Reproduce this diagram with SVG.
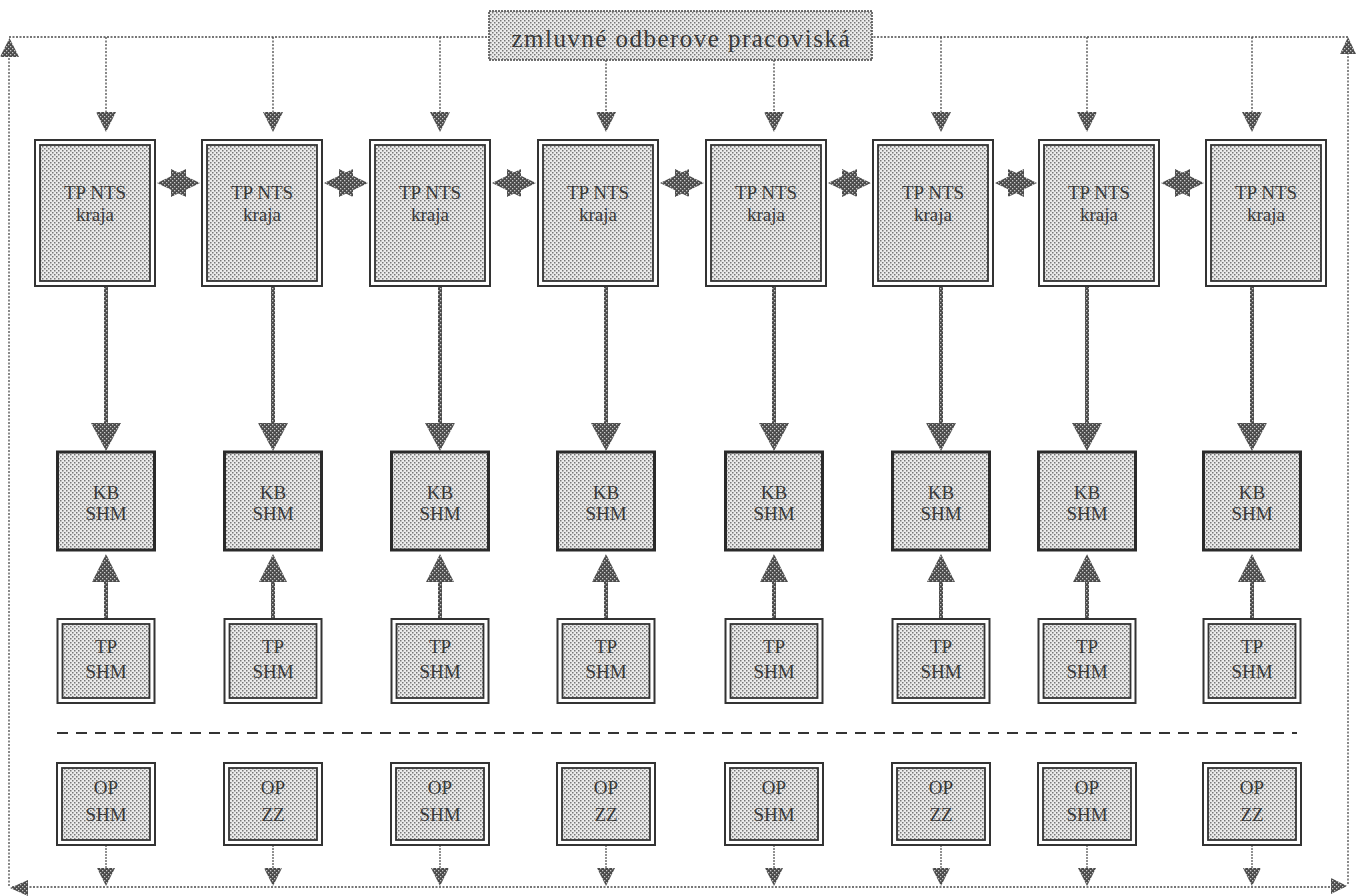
<svg xmlns="http://www.w3.org/2000/svg" width="1356" height="896" viewBox="0 0 1356 896">
<defs>
<pattern id="stip" width="4" height="4" patternUnits="userSpaceOnUse"><rect width="4" height="4" fill="#ebebeb"/><rect x="0" y="0" width="1.5" height="1.5" fill="#777"/><rect x="2" y="2" width="1.5" height="1.5" fill="#777"/></pattern>
<pattern id="dk" width="4" height="4" patternUnits="userSpaceOnUse"><rect width="4" height="4" fill="#4a4a4a"/><rect x="0" y="0" width="1.3" height="1.3" fill="#c8c8c8"/><rect x="2" y="2" width="1.3" height="1.3" fill="#c8c8c8"/></pattern>
</defs>
<style>
.t{font-family:"Liberation Serif","Times New Roman",serif;fill:#3a3a3a;text-anchor:middle;font-size:19px}
.ti{font-size:25px}
.dot{stroke:#4a4a4a;stroke-width:1.3;stroke-dasharray:2 1.5;fill:none}
.ah{fill:url(#dk)}
.shaft{stroke:url(#dk);stroke-width:4;fill:none}
.thin{stroke:#4a4a4a;stroke-width:1.2;stroke-dasharray:2 1;fill:none}
.outer{fill:#fff;stroke:#333;stroke-width:2}
.inner{fill:url(#stip);stroke:#333;stroke-width:1.8}
.kb{fill:url(#stip);stroke:#2a2a2a;stroke-width:3}
.title{fill:url(#stip);stroke:#444;stroke-width:1.5;stroke-dasharray:2 1}
.sep{stroke:#333;stroke-width:2;stroke-dasharray:11 8;fill:none}
</style>
<rect width="1356" height="896" fill="#fff"/>

<g id="connectors">
<!-- outer loop -->
<path class="dot" d="M9 37 H1348"/>
<path class="dot" d="M9 886 V56"/>
<polygon class="ah" points="0,57 19,57 9.5,38"/>
<path class="dot" d="M1348 884 V54"/>
<polygon class="ah" points="1340,54 1356,54 1348,37"/>
<path class="dot" d="M12 887 H1345"/>
<polygon class="ah" points="10,888 28,880 28,896"/>
<polygon class="ah" points="1347,886 1331,878 1331,894"/>
<!-- top down arrows -->
<path class="dot" d="M106 37 V113 M273 37 V113 M440 37 V113 M606 60 V113 M774 60 V113 M941 37 V113 M1087 37 V113 M1252 37 V113"/>
<polygon class="ah" points="96,112 116,112 106,132"/>
<polygon class="ah" points="263,112 283,112 273,132"/>
<polygon class="ah" points="430,112 450,112 440,132"/>
<polygon class="ah" points="596,112 616,112 606,132"/>
<polygon class="ah" points="764,112 784,112 774,132"/>
<polygon class="ah" points="931,112 951,112 941,132"/>
<polygon class="ah" points="1077,112 1097,112 1087,132"/>
<polygon class="ah" points="1242,112 1262,112 1252,132"/>
<!-- double arrows between TP NTS -->
<polygon class="ah" points="157,183 186,169 186,197"/><polygon class="ah" points="200,183 171,169 171,197"/>
<polygon class="ah" points="324,183 353,169 353,197"/><polygon class="ah" points="368,183 339,169 339,197"/>
<polygon class="ah" points="492,183 521,169 521,197"/><polygon class="ah" points="536,183 507,169 507,197"/>
<polygon class="ah" points="660,183 689,169 689,197"/><polygon class="ah" points="704,183 675,169 675,197"/>
<polygon class="ah" points="828,183 857,169 857,197"/><polygon class="ah" points="871,183 842,169 842,197"/>
<polygon class="ah" points="995,183 1024,169 1024,197"/><polygon class="ah" points="1037,183 1008,169 1008,197"/>
<polygon class="ah" points="1161,183 1190,169 1190,197"/><polygon class="ah" points="1204,183 1175,169 1175,197"/>
<!-- TP NTS to KB -->
<path class="shaft" d="M106 286 V424 M273 286 V424 M440 286 V424 M606 286 V424 M774 286 V424 M941 286 V424 M1087 286 V424 M1252 286 V424"/>
<polygon class="ah" points="91,423 121,423 106,451"/>
<polygon class="ah" points="258,423 288,423 273,451"/>
<polygon class="ah" points="425,423 455,423 440,451"/>
<polygon class="ah" points="591,423 621,423 606,451"/>
<polygon class="ah" points="759,423 789,423 774,451"/>
<polygon class="ah" points="926,423 956,423 941,451"/>
<polygon class="ah" points="1072,423 1102,423 1087,451"/>
<polygon class="ah" points="1237,423 1267,423 1252,451"/>
<!-- TP SHM to KB -->
<path class="shaft" d="M106 619 V581 M273 619 V581 M440 619 V581 M606 619 V581 M774 619 V581 M941 619 V581 M1087 619 V581 M1252 619 V581"/>
<polygon class="ah" points="92,582 120,582 106,554"/>
<polygon class="ah" points="259,582 287,582 273,554"/>
<polygon class="ah" points="426,582 454,582 440,554"/>
<polygon class="ah" points="592,582 620,582 606,554"/>
<polygon class="ah" points="760,582 788,582 774,554"/>
<polygon class="ah" points="927,582 955,582 941,554"/>
<polygon class="ah" points="1073,582 1101,582 1087,554"/>
<polygon class="ah" points="1238,582 1266,582 1252,554"/>
<!-- separator -->
<path class="sep" d="M57 733 H1297"/>
<!-- OP to bottom line -->
<path class="thin" d="M106 845 V869 M273 845 V869 M440 845 V869 M606 845 V869 M774 845 V869 M941 845 V869 M1087 845 V869 M1252 845 V869"/>
<polygon class="ah" points="97,868 115,868 106,886"/>
<polygon class="ah" points="264,868 282,868 273,886"/>
<polygon class="ah" points="431,868 449,868 440,886"/>
<polygon class="ah" points="597,868 615,868 606,886"/>
<polygon class="ah" points="765,868 783,868 774,886"/>
<polygon class="ah" points="932,868 950,868 941,886"/>
<polygon class="ah" points="1078,868 1096,868 1087,886"/>
<polygon class="ah" points="1243,868 1261,868 1252,886"/>
</g>

<g id="title">
<rect class="title" x="489" y="11" width="383" height="49"/>
<text class="t ti" x="680.5" y="47" textLength="338" lengthAdjust="spacing">zmluvné odberove pracoviská</text>
</g>

<g id="tpnts1"><rect class="outer" x="35" y="140" width="120" height="146"/><rect class="inner" x="40" y="145" width="110" height="136"/><text class="t" x="95" y="199">TP NTS</text><text class="t" x="95" y="221">kraja</text></g>
<g id="tpnts2"><rect class="outer" x="202" y="140" width="120" height="146"/><rect class="inner" x="207" y="145" width="110" height="136"/><text class="t" x="262" y="199">TP NTS</text><text class="t" x="262" y="221">kraja</text></g>
<g id="tpnts3"><rect class="outer" x="370" y="140" width="120" height="146"/><rect class="inner" x="375" y="145" width="110" height="136"/><text class="t" x="430" y="199">TP NTS</text><text class="t" x="430" y="221">kraja</text></g>
<g id="tpnts4"><rect class="outer" x="538" y="140" width="120" height="146"/><rect class="inner" x="543" y="145" width="110" height="136"/><text class="t" x="598" y="199">TP NTS</text><text class="t" x="598" y="221">kraja</text></g>
<g id="tpnts5"><rect class="outer" x="706" y="140" width="120" height="146"/><rect class="inner" x="711" y="145" width="110" height="136"/><text class="t" x="766" y="199">TP NTS</text><text class="t" x="766" y="221">kraja</text></g>
<g id="tpnts6"><rect class="outer" x="873" y="140" width="120" height="146"/><rect class="inner" x="878" y="145" width="110" height="136"/><text class="t" x="933" y="199">TP NTS</text><text class="t" x="933" y="221">kraja</text></g>
<g id="tpnts7"><rect class="outer" x="1039" y="140" width="120" height="146"/><rect class="inner" x="1044" y="145" width="110" height="136"/><text class="t" x="1099" y="199">TP NTS</text><text class="t" x="1099" y="221">kraja</text></g>
<g id="tpnts8"><rect class="outer" x="1206" y="140" width="120" height="146"/><rect class="inner" x="1211" y="145" width="110" height="136"/><text class="t" x="1266" y="199">TP NTS</text><text class="t" x="1266" y="221">kraja</text></g>

<g id="kb1"><rect class="kb" x="57.5" y="452" width="97" height="98"/><text class="t" x="106" y="499">KB</text><text class="t" x="106" y="520">SHM</text></g>
<g id="kb2"><rect class="kb" x="224.5" y="452" width="97" height="98"/><text class="t" x="273" y="499">KB</text><text class="t" x="273" y="520">SHM</text></g>
<g id="kb3"><rect class="kb" x="391.5" y="452" width="97" height="98"/><text class="t" x="440" y="499">KB</text><text class="t" x="440" y="520">SHM</text></g>
<g id="kb4"><rect class="kb" x="557.5" y="452" width="97" height="98"/><text class="t" x="606" y="499">KB</text><text class="t" x="606" y="520">SHM</text></g>
<g id="kb5"><rect class="kb" x="725.5" y="452" width="97" height="98"/><text class="t" x="774" y="499">KB</text><text class="t" x="774" y="520">SHM</text></g>
<g id="kb6"><rect class="kb" x="892.5" y="452" width="97" height="98"/><text class="t" x="941" y="499">KB</text><text class="t" x="941" y="520">SHM</text></g>
<g id="kb7"><rect class="kb" x="1038.5" y="452" width="97" height="98"/><text class="t" x="1087" y="499">KB</text><text class="t" x="1087" y="520">SHM</text></g>
<g id="kb8"><rect class="kb" x="1203.5" y="452" width="97" height="98"/><text class="t" x="1252" y="499">KB</text><text class="t" x="1252" y="520">SHM</text></g>

<g id="tpshm1"><rect class="outer" x="57.5" y="619" width="97" height="84"/><rect class="inner" x="62.5" y="624" width="87" height="74"/><text class="t" x="106" y="653">TP</text><text class="t" x="106" y="678">SHM</text></g>
<g id="tpshm2"><rect class="outer" x="224.5" y="619" width="97" height="84"/><rect class="inner" x="229.5" y="624" width="87" height="74"/><text class="t" x="273" y="653">TP</text><text class="t" x="273" y="678">SHM</text></g>
<g id="tpshm3"><rect class="outer" x="391.5" y="619" width="97" height="84"/><rect class="inner" x="396.5" y="624" width="87" height="74"/><text class="t" x="440" y="653">TP</text><text class="t" x="440" y="678">SHM</text></g>
<g id="tpshm4"><rect class="outer" x="557.5" y="619" width="97" height="84"/><rect class="inner" x="562.5" y="624" width="87" height="74"/><text class="t" x="606" y="653">TP</text><text class="t" x="606" y="678">SHM</text></g>
<g id="tpshm5"><rect class="outer" x="725.5" y="619" width="97" height="84"/><rect class="inner" x="730.5" y="624" width="87" height="74"/><text class="t" x="774" y="653">TP</text><text class="t" x="774" y="678">SHM</text></g>
<g id="tpshm6"><rect class="outer" x="892.5" y="619" width="97" height="84"/><rect class="inner" x="897.5" y="624" width="87" height="74"/><text class="t" x="941" y="653">TP</text><text class="t" x="941" y="678">SHM</text></g>
<g id="tpshm7"><rect class="outer" x="1038.5" y="619" width="97" height="84"/><rect class="inner" x="1043.5" y="624" width="87" height="74"/><text class="t" x="1087" y="653">TP</text><text class="t" x="1087" y="678">SHM</text></g>
<g id="tpshm8"><rect class="outer" x="1203.5" y="619" width="97" height="84"/><rect class="inner" x="1208.5" y="624" width="87" height="74"/><text class="t" x="1252" y="653">TP</text><text class="t" x="1252" y="678">SHM</text></g>

<g id="op1"><rect class="outer" x="57" y="763" width="98" height="82"/><rect class="inner" x="62" y="768" width="88" height="72"/><text class="t" x="106" y="794">OP</text><text class="t" x="106" y="821">SHM</text></g>
<g id="op2"><rect class="outer" x="224" y="763" width="98" height="82"/><rect class="inner" x="229" y="768" width="88" height="72"/><text class="t" x="273" y="794">OP</text><text class="t" x="273" y="821">ZZ</text></g>
<g id="op3"><rect class="outer" x="391" y="763" width="98" height="82"/><rect class="inner" x="396" y="768" width="88" height="72"/><text class="t" x="440" y="794">OP</text><text class="t" x="440" y="821">SHM</text></g>
<g id="op4"><rect class="outer" x="557" y="763" width="98" height="82"/><rect class="inner" x="562" y="768" width="88" height="72"/><text class="t" x="606" y="794">OP</text><text class="t" x="606" y="821">ZZ</text></g>
<g id="op5"><rect class="outer" x="725" y="763" width="98" height="82"/><rect class="inner" x="730" y="768" width="88" height="72"/><text class="t" x="774" y="794">OP</text><text class="t" x="774" y="821">SHM</text></g>
<g id="op6"><rect class="outer" x="892" y="763" width="98" height="82"/><rect class="inner" x="897" y="768" width="88" height="72"/><text class="t" x="941" y="794">OP</text><text class="t" x="941" y="821">ZZ</text></g>
<g id="op7"><rect class="outer" x="1038" y="763" width="98" height="82"/><rect class="inner" x="1043" y="768" width="88" height="72"/><text class="t" x="1087" y="794">OP</text><text class="t" x="1087" y="821">SHM</text></g>
<g id="op8"><rect class="outer" x="1203" y="763" width="98" height="82"/><rect class="inner" x="1208" y="768" width="88" height="72"/><text class="t" x="1252" y="794">OP</text><text class="t" x="1252" y="821">ZZ</text></g>
</svg>
